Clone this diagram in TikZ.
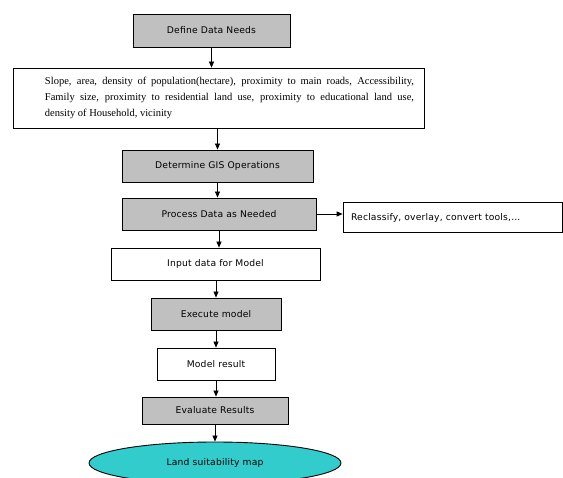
\documentclass[tikz,border=0pt]{standalone}
\usepackage{fontspec}
\setmainfont{Liberation Serif}
\newfontfamily\labelfont[LetterSpace=2]{DejaVu Sans}
\usetikzlibrary{shapes.geometric,arrows.meta}
\definecolor{boxgray}{RGB}{192,192,192}
\definecolor{mapcyan}{RGB}{51,204,204}

\begin{document}
\begin{tikzpicture}[x=1pt,y=-1pt,
	gray box/.style={draw, line width=0.9pt, fill=boxgray, inner sep=0pt,
		font=\labelfont\fontsize{9.2}{11}\selectfont},
	white box/.style={draw, line width=0.7pt, fill=white, inner sep=0pt,
		font=\labelfont\fontsize{9.2}{11}\selectfont},
	flow/.style={-{Triangle[width=5pt,length=6pt]}, line width=0.7pt}]
	\useasboundingbox (0,0) rectangle (563,478);

	\node[gray box, minimum width=157pt, minimum height=33pt] (1) at (211.5,30.5) {Define Data Needs};
	\node[white box, minimum width=411pt, minimum height=60pt, text width=391pt, align=justify,
		font=\fontsize{10.5}{16}\selectfont] (2) at (218.5,98)
		{\hspace*{22pt}Slope, area, density of population(hectare), proximity to main roads, Accessibility,\linebreak
		\hspace*{22pt}Family size, proximity to residential land use, proximity to educational land use,\linebreak
		\hspace*{22pt}density of Household, vicinity};
	\node[gray box, minimum width=191pt, minimum height=32pt] (3) at (217.5,166) {Determine GIS Operations};
	\node[gray box, minimum width=194pt, minimum height=32pt] (4) at (219,214) {Process Data as Needed};
	\node[white box, minimum width=219pt, minimum height=30pt, text width=203pt, align=left] (5) at (452.5,217.5) {Reclassify, overlay, convert tools,...};
	\node[white box, minimum width=209pt, minimum height=32pt] (6) at (215.5,264) {Input data for Model};
	\node[gray box, minimum width=130pt, minimum height=32pt] (7) at (216,314) {Execute model};
	\node[white box, minimum width=118pt, minimum height=32pt] (8) at (216,364) {Model result};
	\node[gray box, minimum width=146pt, minimum height=27pt] (9) at (215,410.5) {Evaluate Results};
	\node[shape=ellipse, draw, line width=0.9pt, fill=mapcyan, inner sep=0pt, minimum width=252pt,
		minimum height=42pt, font=\labelfont\fontsize{9.2}{11}\selectfont] (10) at (215,463) {Land suitability map};

	\path [flow] (1.south) edge (1.south |- 2.north);
	\path [flow] (3.north |- 2.south) edge (3.north);
	\path [flow] (3.south) edge (3.south |- 4.north);
	\path [flow] (4.east) edge (4.east -| 5.west);
	\path [flow] (4.south) edge (4.south |- 6.north);
	\path [flow] (7.north |- 6.south) edge (7.north);
	\path [flow] (7.south) edge (7.south |- 8.north);
	\path [flow] (8.south) edge (8.south |- 9.north);
	\path [flow] (9.south) edge (9.south |- 10.north);
\end{tikzpicture}
\end{document}
